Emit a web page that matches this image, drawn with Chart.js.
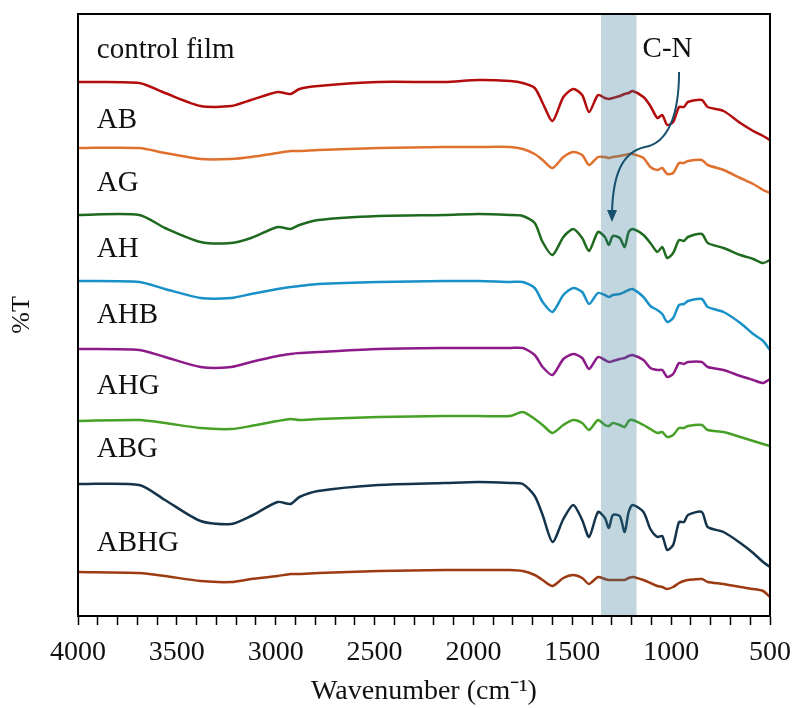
<!DOCTYPE html>
<html>
<head>
<meta charset="utf-8">
<script src="https://cdn.jsdelivr.net/npm/chart.js@4.4.0/dist/chart.umd.min.js"></script>
<style>
  html, body { margin: 0; padding: 0; background: #fff; }
</style>
</head>
<body>
<canvas id="ftir" width="796" height="708"></canvas>
<script>
// wavenumber (cm-1) sample points, shared by all spectra
const wavenumbers = [4000, 3690, 3560, 3380, 3225, 3125, 2990, 2925, 2880, 2785, 2480, 2145, 1975, 1815, 1750, 1690, 1650, 1600, 1545, 1495, 1450, 1415, 1370, 1335, 1315, 1295, 1260, 1235, 1215, 1195, 1140, 1105, 1070, 1045, 1020, 990, 960, 935, 915, 845, 815, 735, 650, 585, 535, 500];

// %T (stacked, offset)
const controlFilm = [53.4, 53.3, 52.3, 51.0, 51.0, 51.6, 52.4, 52.2, 52.7, 53.0, 53.4, 53.4, 53.6, 53.5, 53.3, 52.8, 51.3, 49.5, 51.9, 52.7, 52.1, 50.4, 52.1, 51.8, 51.7, 51.8, 52.0, 52.2, 52.3, 52.5, 51.9, 51.0, 49.8, 50.1, 49.1, 49.4, 50.9, 50.9, 51.4, 51.6, 50.9, 50.5, 49.3, 48.5, 48.0, 47.6];
const ab = [46.8, 46.8, 46.3, 45.7, 45.7, 45.9, 46.3, 46.5, 46.5, 46.6, 46.8, 46.9, 46.9, 46.9, 46.7, 46.2, 45.6, 44.8, 45.9, 46.4, 46.1, 45.1, 45.9, 45.9, 45.8, 45.9, 46.0, 46.1, 46.2, 46.2, 45.8, 44.9, 44.6, 44.8, 44.2, 44.3, 45.3, 45.3, 45.5, 45.6, 45.1, 44.6, 43.8, 43.2, 42.6, 42.3];
const ag = [40.1, 40.1, 38.8, 37.4, 37.3, 37.8, 38.9, 38.7, 39.1, 39.6, 40.0, 40.1, 40.2, 40.1, 40.0, 39.3, 37.4, 36.1, 37.9, 38.7, 37.8, 36.5, 38.4, 37.9, 37.1, 38.0, 37.8, 36.9, 38.4, 38.7, 38.1, 37.3, 36.4, 36.9, 35.8, 36.3, 37.6, 37.5, 37.9, 38.2, 37.3, 36.8, 36.1, 35.7, 35.3, 35.6];
const ah = [33.5, 33.4, 32.7, 31.8, 31.8, 32.2, 32.7, 32.9, 33.0, 33.2, 33.4, 33.5, 33.5, 33.4, 33.4, 32.8, 31.4, 30.4, 32.1, 32.8, 32.4, 31.2, 32.3, 32.1, 31.9, 32.1, 32.2, 32.4, 32.6, 32.7, 31.9, 31.0, 30.6, 30.2, 29.4, 29.8, 31.1, 31.2, 31.5, 31.7, 30.9, 30.4, 29.3, 28.2, 27.5, 26.6];
const ahb = [26.7, 26.6, 25.9, 24.9, 24.9, 25.4, 26.0, 26.2, 26.3, 26.4, 26.7, 26.8, 26.8, 26.8, 26.8, 26.1, 24.9, 24.1, 25.7, 26.2, 25.8, 24.7, 25.9, 25.6, 25.4, 25.5, 25.7, 25.8, 26.0, 26.1, 25.6, 24.8, 24.6, 24.6, 23.9, 24.2, 25.3, 25.2, 25.4, 25.4, 24.9, 24.6, 24.0, 23.6, 23.3, 23.7];
const ahg = [19.5, 19.6, 19.3, 18.8, 18.7, 19.0, 19.5, 19.7, 19.6, 19.7, 19.9, 20.0, 20.0, 20.0, 20.4, 19.7, 19.1, 18.3, 19.1, 19.6, 19.3, 18.6, 19.6, 19.1, 19.0, 19.3, 19.1, 18.9, 19.5, 19.6, 19.1, 18.7, 18.3, 18.4, 17.9, 18.1, 18.8, 18.8, 19.0, 19.1, 18.6, 18.4, 17.9, 17.5, 17.2, 17.0];
const abg = [13.2, 13.1, 11.6, 9.5, 9.2, 10.0, 11.4, 11.2, 11.9, 12.5, 13.1, 13.3, 13.4, 13.3, 13.2, 12.0, 10.1, 7.4, 9.7, 11.1, 9.6, 7.9, 10.4, 9.8, 8.8, 10.1, 10.0, 8.4, 10.4, 11.1, 10.4, 8.7, 7.9, 8.0, 6.6, 7.1, 9.4, 9.4, 10.1, 10.4, 8.9, 8.4, 7.3, 6.3, 5.4, 4.9];
const abhg = [4.4, 4.3, 4.0, 3.5, 3.4, 3.7, 4.0, 4.2, 4.2, 4.3, 4.5, 4.6, 4.6, 4.6, 4.5, 4.1, 3.6, 3.0, 3.8, 4.1, 3.8, 3.2, 3.9, 3.7, 3.6, 3.6, 3.6, 3.6, 3.8, 3.9, 3.6, 3.3, 3.0, 2.9, 2.7, 2.9, 3.3, 3.5, 3.6, 3.7, 3.4, 3.2, 2.9, 2.7, 2.5, 1.9];

const sampleNames = ["control film", "AB", "AG", "AH", "AHB", "AHG", "ABG", "ABHG"];
const spectra = [controlFilm, ab, ag, ah, ahb, ahg, abg, abhg];
const colors = ["#b30c0c", "#e0702e", "#1e6a1e", "#1890c8", "#8c1a88", "#47a126", "#14344c", "#9c3a12"];
const labelLevels = [55.8, 48.8, 42.5, 35.9, 29.3, 22.2, 15.9, 6.5];
const labelWavenumber = 3905;

// C-N band and its annotation
const bandRange = [1355, 1175];
const cnText = [1018, 55.95];
const arrowPath = [[960, 54.4], [960, 50.1], [1016, 47.3], [1132, 46.9], [1249, 46.4], [1294, 44.1], [1299, 40.4], [1299, 39.6]];

const serif = '"Liberation Serif", "Times New Roman", serif';

const overlay = {
    id: "overlay",
    afterDatasetsDraw(chart) {
        const { ctx, chartArea: a, scales: { x, y } } = chart;
        ctx.save();

        // shaded band sits over the traces
        const b0 = x.getPixelForValue(bandRange[0]);
        const b1 = x.getPixelForValue(bandRange[1]);
        ctx.fillStyle = "rgba(49,120,150,0.3)";
        ctx.fillRect(Math.min(b0, b1), a.top, Math.abs(b1 - b0), a.bottom - a.top);

        ctx.fillStyle = "#111";
        ctx.font = `29px ${serif}`;
        ctx.textBaseline = "alphabetic";
        ctx.textAlign = "left";
        sampleNames.forEach((name, i) => {
            ctx.fillText(name, x.getPixelForValue(labelWavenumber), y.getPixelForValue(labelLevels[i]));
        });
        ctx.textAlign = "center";
        ctx.fillText("C-N", x.getPixelForValue(cnText[0]), y.getPixelForValue(cnText[1]));

        // curved arrow
        const p = arrowPath.map(([w, v]) => [x.getPixelForValue(w), y.getPixelForValue(v)]);
        ctx.strokeStyle = "#17506e";
        ctx.fillStyle = "#17506e";
        ctx.lineWidth = 2;
        ctx.beginPath();
        ctx.moveTo(p[0][0], p[0][1]);
        ctx.bezierCurveTo(p[1][0], p[1][1], p[2][0], p[2][1], p[3][0], p[3][1]);
        ctx.bezierCurveTo(p[4][0], p[4][1], p[5][0], p[5][1], p[6][0], p[6][1]);
        ctx.stroke();
        const tip = p[7];
        ctx.beginPath();
        ctx.moveTo(tip[0], tip[1] + 2);
        ctx.lineTo(tip[0] - 5, tip[1] - 10);
        ctx.lineTo(tip[0] + 5, tip[1] - 10);
        ctx.closePath();
        ctx.fill();

        // frame
        ctx.strokeStyle = "#000";
        ctx.lineWidth = 2;
        ctx.strokeRect(a.left, a.top, a.right - a.left, a.bottom - a.top);
        ctx.restore();
    },
};

new Chart(document.getElementById("ftir"), {
    type: "line",
    data: {
        datasets: spectra.map((values, i) => {
            return {
                label: sampleNames[i],
                data: wavenumbers.map((w, j) => ({ x: w, y: values[j] })),
                borderColor: colors[i],
                borderWidth: 2.5,
                pointRadius: 0,
                tension: 0.25,
                fill: false,
            };
        }),
    },
    options: {
        responsive: false,
        animation: false,
        layout: {
            padding: { top: 14, right: 26, bottom: 0, left: 0 },
        },
        plugins: {
            legend: { display: false },
            tooltip: { enabled: false },
        },
        scales: {
            x: {
                type: "linear",
                reverse: true,
                min: 500,
                max: 4000,
                afterFit: (s) => {
                    s.height = 92;
                    s.paddingLeft = 0;
                    s.paddingRight = 0;
                },
                grid: {
                    drawOnChartArea: false,
                    drawTicks: true,
                    tickLength: 9,
                    tickColor: "#000",
                    tickWidth: 1.5,
                },
                border: { color: "#000", width: 2 },
                ticks: {
                    stepSize: 100,
                    autoSkip: false,
                    maxRotation: 0,
                    padding: 11,
                    color: "#111",
                    font: { family: serif, size: 28 },
                    callback: (v) => (v % 500 === 0 ? String(v) : ""),
                },
                title: {
                    display: true,
                    text: "Wavenumber (cm\u207B\u00B9)",
                    color: "#111",
                    font: { family: serif, size: 28 },
                    padding: { top: 0, bottom: 0 },
                },
            },
            y: {
                min: 0,
                max: 60.2,
                afterFit: (s) => { s.width = 78; },
                grid: { display: false },
                border: { color: "#000", width: 2 },
                ticks: { display: false },
                title: {
                    display: true,
                    text: "%T",
                    color: "#111",
                    font: { family: serif, size: 26 },
                    padding: { top: 7, bottom: 0 },
                },
            },
        },
    },
    plugins: [overlay],
});
</script>
</body>
</html>
